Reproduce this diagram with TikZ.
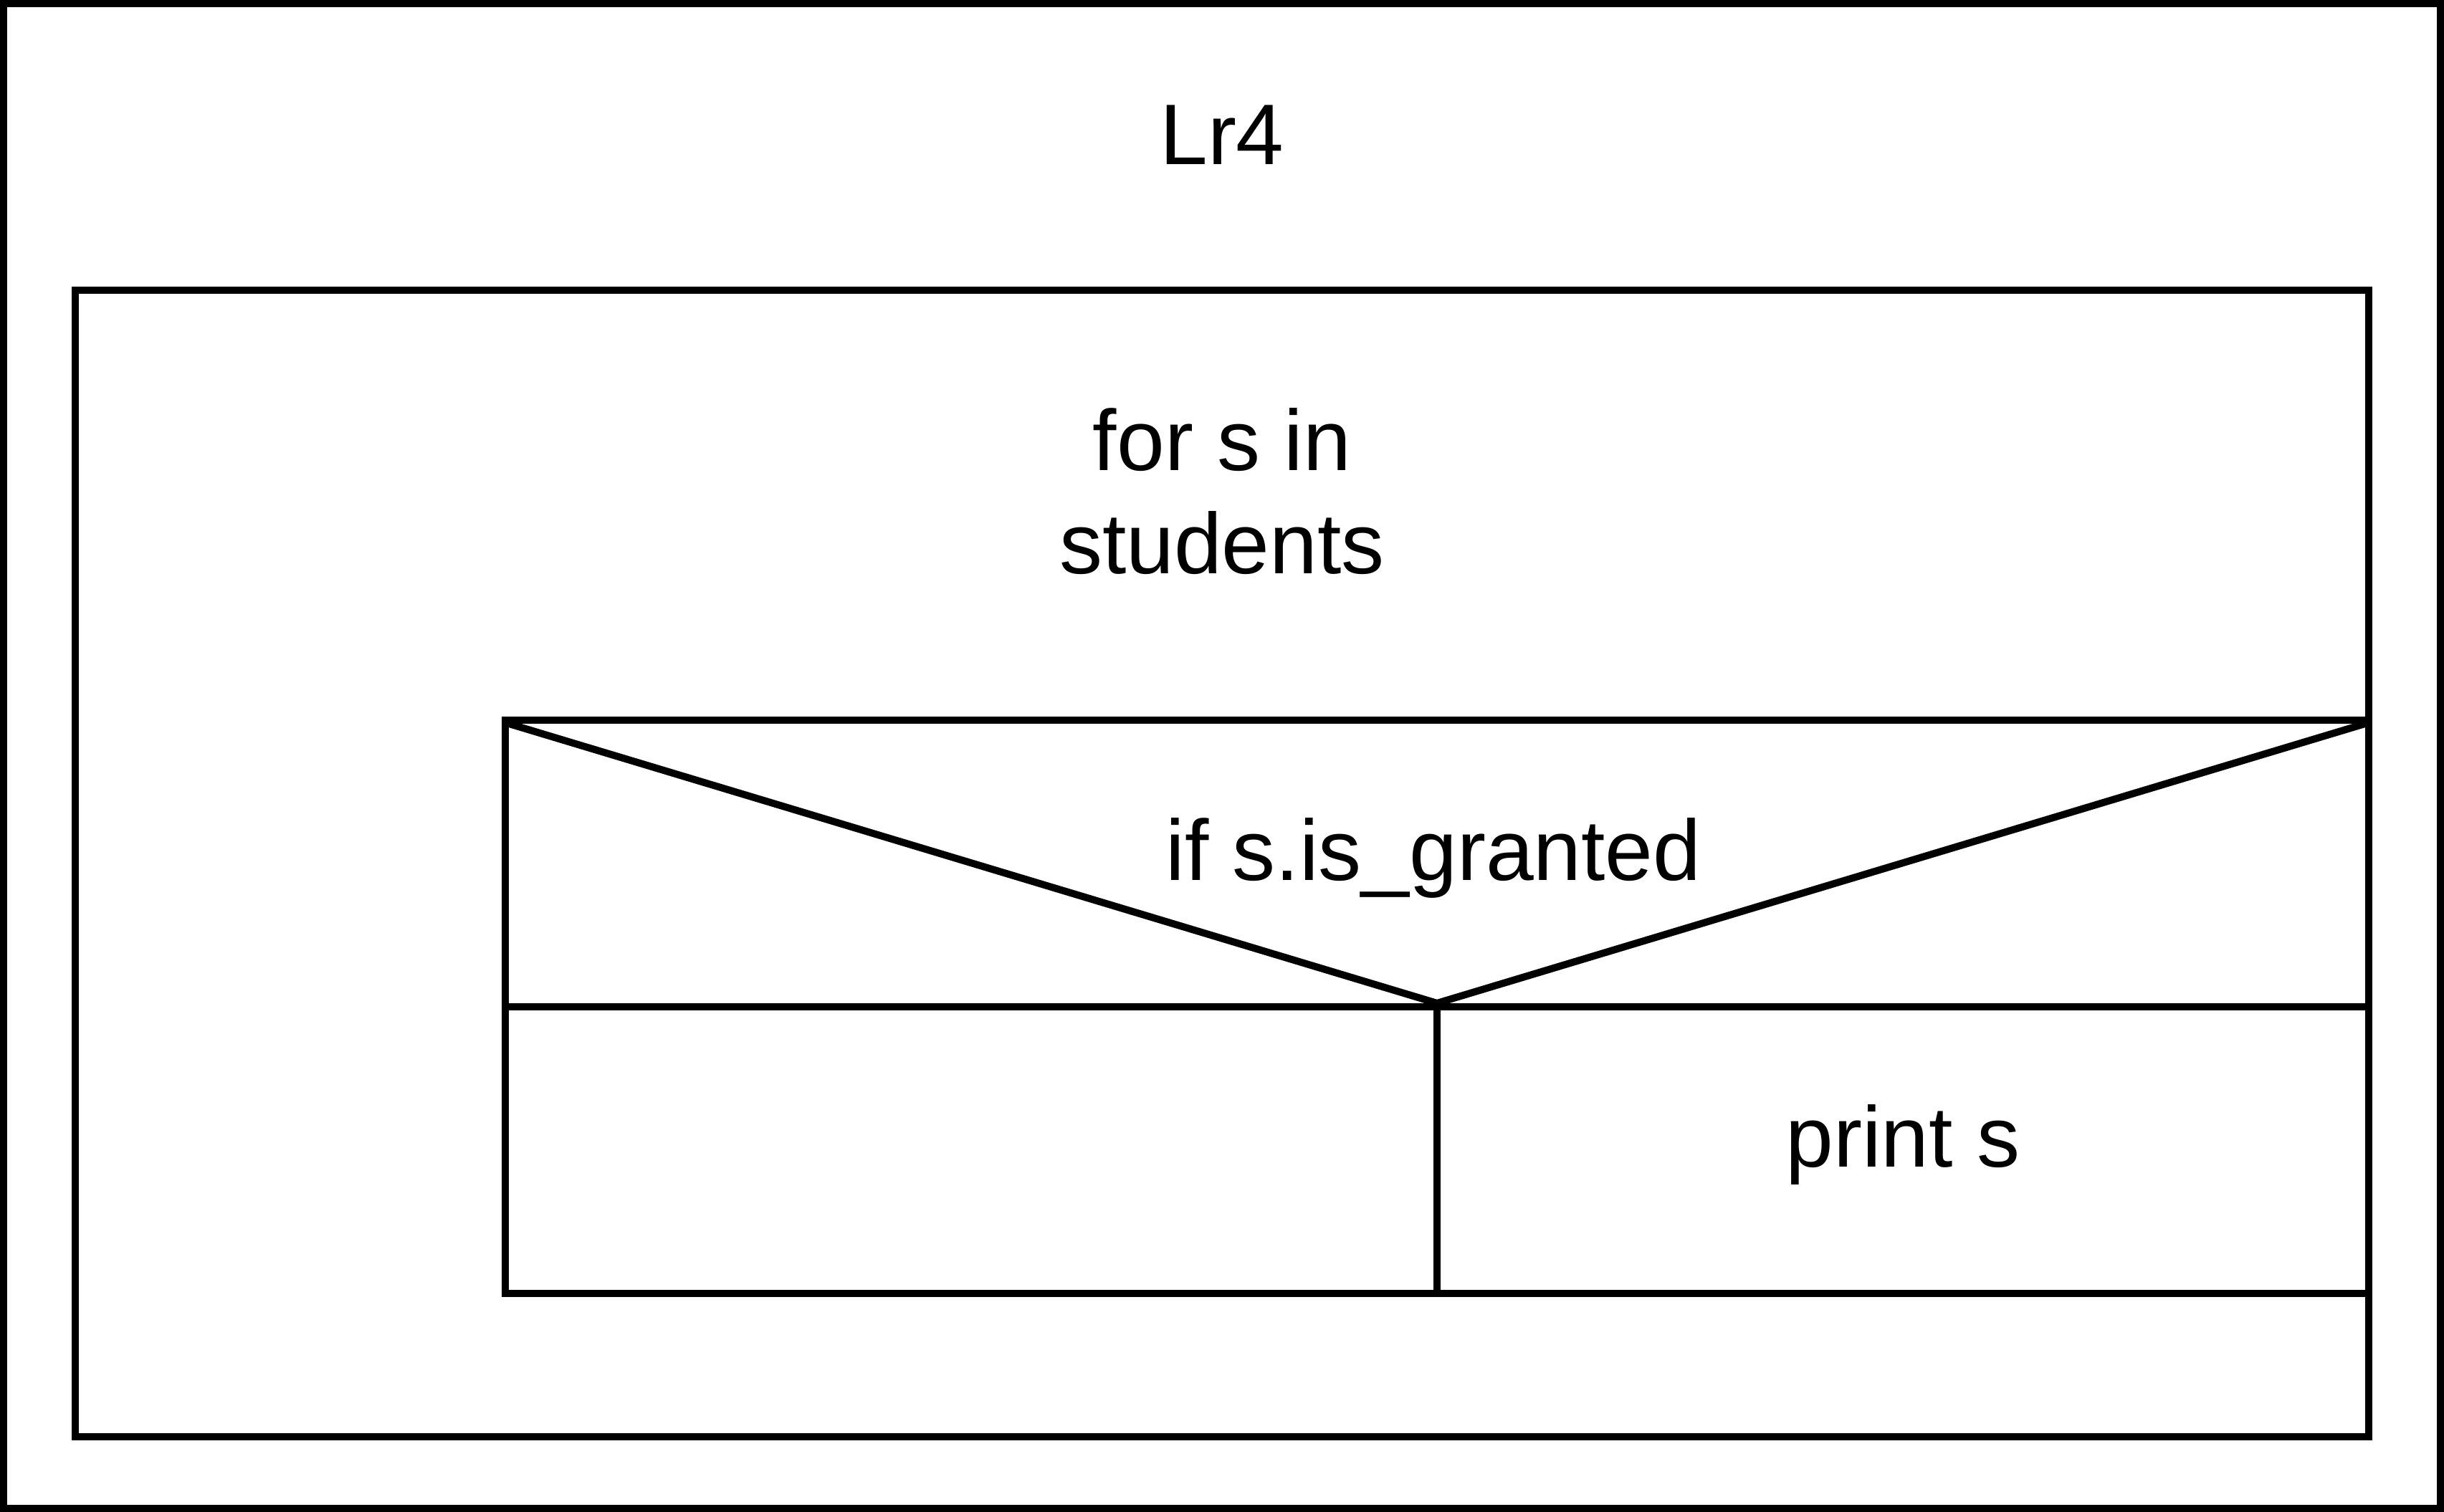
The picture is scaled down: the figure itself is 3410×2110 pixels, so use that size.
\documentclass[tikz,border=0pt]{standalone}
\usepackage{fontspec}
\setmainfont{Liberation Sans}
\tikzset{
  frame/.style={draw=black, line width=1pt},
  label/.style={inner sep=0pt, outer sep=0pt, font=\fontsize{12}{14.4}\selectfont, align=center}
}
\begin{document}
\begin{tikzpicture}[x=0.1pt, y=-0.1pt]
\useasboundingbox (0,0) rectangle (3410,2110);
% corners
\coordinate (outerNW) at (5,5);
\coordinate (outerSE) at (3405,2105);
\coordinate (loopNW) at (105,405);
\coordinate (loopSE) at (3305,2005);
\coordinate (ifNW) at (705,1005);
\coordinate (ifSE) at (3305,1805);
\coordinate (ifW) at (705,1405);
\coordinate (ifE) at (3305,1405);
\coordinate (apex) at (2005,1405);
\coordinate (midS) at (2005,1805);
\coordinate (diagL) at (710,1010);
\coordinate (diagR) at (3300,1010);
% frames
\draw[frame] (outerNW) rectangle (outerSE);
\draw[frame] (loopNW) rectangle (loopSE);
\draw[frame] (ifNW) rectangle (ifSE);
\draw[frame] (ifW) -- (ifE);
\draw[frame] (apex) -- (midS);
\draw[frame, line join=miter] (diagL) -- (2005,1400) -- (diagR);
% texts
\node[label, anchor=base] (title) at (1705,230) {Lr4};
\node[label, anchor=center] (loop) at (1705,686) {for s in\\students};
\node[label, anchor=base] (cond) at (2000,1229) {if s.is\_granted};
\node[label, anchor=base] (yes) at (2655,1629) {print s};
\end{tikzpicture}
\end{document}
